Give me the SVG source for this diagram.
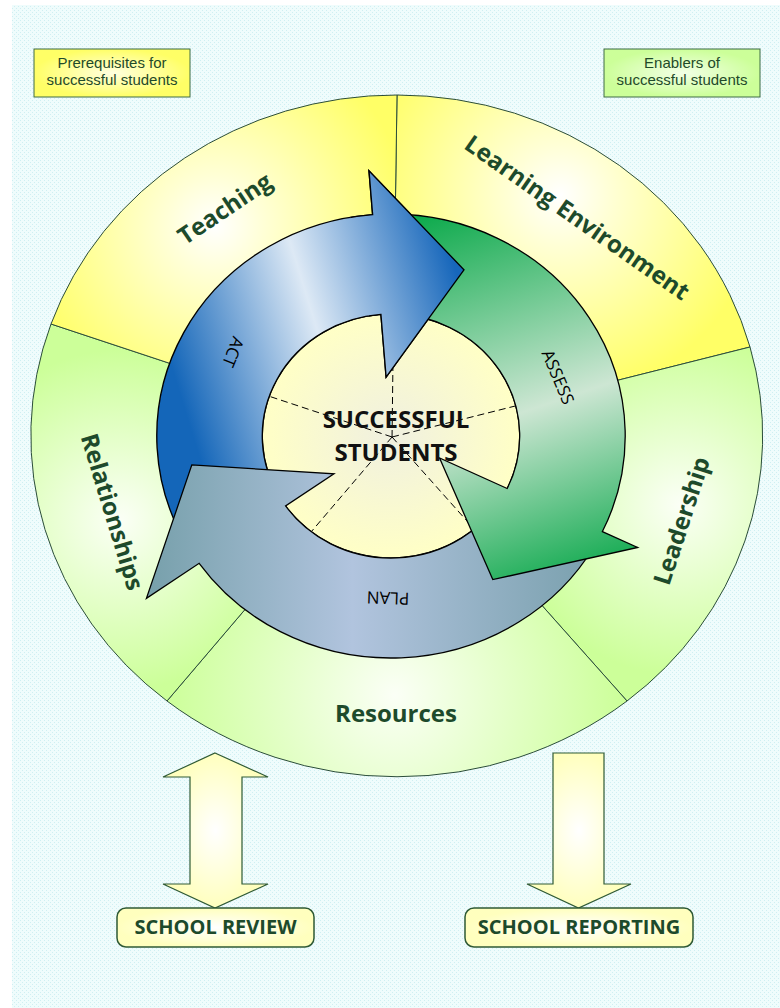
<svg xmlns="http://www.w3.org/2000/svg" width="780" height="1008" viewBox="0 0 780 1008">
  <defs>
    <pattern id="dots" width="4" height="4" patternUnits="userSpaceOnUse">
      <rect width="4" height="4" fill="#effcfc"/>
      <rect x="0" y="0" width="1" height="1" fill="#cfeff2"/>
      <rect x="2" y="2" width="1" height="1" fill="#cfeff2"/>
    </pattern>
    <!-- ring segment shading -->
    <radialGradient id="gTeach" gradientUnits="userSpaceOnUse" cx="215" cy="225" r="195">
      <stop offset="0" stop-color="#ffffff"/><stop offset="0.25" stop-color="#ffffd6"/><stop offset="1" stop-color="#ffff66"/>
    </radialGradient>
    <radialGradient id="gLearn" gradientUnits="userSpaceOnUse" cx="560" cy="195" r="200">
      <stop offset="0" stop-color="#ffffff"/><stop offset="0.25" stop-color="#ffffd6"/><stop offset="1" stop-color="#ffff66"/>
    </radialGradient>
    <radialGradient id="gLead" gradientUnits="userSpaceOnUse" cx="680" cy="505" r="170">
      <stop offset="0" stop-color="#fbfff6"/><stop offset="1" stop-color="#ccff99"/>
    </radialGradient>
    <radialGradient id="gRel" gradientUnits="userSpaceOnUse" cx="120" cy="520" r="170">
      <stop offset="0" stop-color="#fbfff6"/><stop offset="1" stop-color="#ccff99"/>
    </radialGradient>
    <radialGradient id="gRes" gradientUnits="userSpaceOnUse" cx="395" cy="695" r="230">
      <stop offset="0" stop-color="#fbfff6"/><stop offset="1" stop-color="#ccff99"/>
    </radialGradient>
    <radialGradient id="gYellowBox">
      <stop offset="0" stop-color="#ffffe0"/><stop offset="1" stop-color="#ffff66"/>
    </radialGradient>
    <radialGradient id="gGreenBox">
      <stop offset="0" stop-color="#f2ffe6"/><stop offset="1" stop-color="#ccff99"/>
    </radialGradient>
    <radialGradient id="gCream">
      <stop offset="0" stop-color="#ffffff"/><stop offset="1" stop-color="#ffffbe"/>
    </radialGradient>
    <!-- cycle shading (local cycle coordinates) -->
    <radialGradient id="gCore" gradientUnits="userSpaceOnUse" cx="0" cy="0" r="122">
      <stop offset="0" stop-color="#f0f0e0"/><stop offset="1" stop-color="#ffffc6"/>
    </radialGradient>
    <linearGradient id="gAct" gradientUnits="userSpaceOnUse" x1="-214" y1="-90" x2="60" y2="-170">
      <stop offset="0" stop-color="#1466b9"/><stop offset="0.5" stop-color="#dde9f5"/><stop offset="1" stop-color="#1767bb"/>
    </linearGradient>
    <linearGradient id="gAssess" gradientUnits="userSpaceOnUse" x1="37" y1="-231" x2="174" y2="154">
      <stop offset="0" stop-color="#07a848"/><stop offset="0.55" stop-color="#cde6d3"/><stop offset="1" stop-color="#08a749"/>
    </linearGradient>
    <linearGradient id="gPlan" gradientUnits="userSpaceOnUse" x1="-230" y1="100" x2="200" y2="100">
      <stop offset="0" stop-color="#77a0ab"/><stop offset="0.45" stop-color="#b1c4de"/><stop offset="1" stop-color="#789fac"/>
    </linearGradient>
    <path id="actShape" d="M -192.26 111 A 222 222 0 0 1 -17.42 -221.32 L -20.87 -265.18 L 69.18 -166.18 L -4.63 -58.82 L -9.57 -121.62 A 122 122 0 0 0 -105.66 61 Z"/>
    <clipPath id="actHeadClip">
      <polygon points="0,0 -52.1,-295.4 77.6,-289.8 192.8,-229.8 271.9,-126.8"/>
    </clipPath>
  </defs>
  <style>
    .seg{stroke:#2b4d3a;stroke-width:1}
    .lbl{font-family:"Open Sans","DejaVu Sans",sans-serif;font-weight:700;font-size:24px;fill:#1d4a2b;text-anchor:middle}
    .legend{font-family:"Liberation Sans",Arial,sans-serif;font-size:15px;fill:#1f4a2a;text-anchor:middle}
    .legbox{stroke:#3d6b45;stroke-width:1}
    .arrow{stroke:#000;stroke-width:1.3;stroke-linejoin:miter;vector-effect:non-scaling-stroke}
    .step{font-family:"Open Sans","DejaVu Sans",sans-serif;font-size:17px;fill:#000;text-anchor:middle}
    .core{font-family:"Open Sans","DejaVu Sans",sans-serif;font-weight:700;font-size:24px;fill:#111;text-anchor:middle}
    .spoke{stroke:#000;stroke-width:1;stroke-dasharray:7 4;fill:none;vector-effect:non-scaling-stroke}
    .flow{fill:url(#gCream);stroke:#2f5a35;stroke-width:1.2}
    .outbox{fill:url(#gCream);stroke:#2f5a35;stroke-width:1.5}
    .outtxt{font-family:"Open Sans","DejaVu Sans",sans-serif;font-weight:700;font-size:20px;fill:#1d4a2b;text-anchor:middle}
  </style>

  <rect width="780" height="1008" fill="#ffffff"/>
  <rect x="12" y="5" width="768" height="1003" fill="url(#dots)"/>

  <!-- legend -->
  <g id="legend-prerequisites">
    <rect class="legbox" x="34" y="49" width="156" height="48" fill="url(#gYellowBox)"/>
    <text class="legend" x="112" y="68">Prerequisites for</text>
    <text class="legend" x="112" y="85">successful students</text>
  </g>
  <g id="legend-enablers">
    <rect class="legbox" x="604" y="49" width="156" height="48" fill="url(#gGreenBox)"/>
    <text class="legend" x="682" y="68">Enablers of</text>
    <text class="legend" x="682" y="85">successful students</text>
  </g>

  <!-- outer ring segments (wedges meet at the hub, hidden under the cycle) -->
  <g id="seg-learning-environment">
    <path class="seg" fill="url(#gLearn)" d="M 392 437 L 397 95 A 366 341 0 0 1 750 347 Z"/>
  </g>
  <g id="seg-leadership">
    <path class="seg" fill="url(#gLead)" d="M 392 437 L 750 347 A 366 341 0 0 1 627 701 Z"/>
  </g>
  <g id="seg-resources">
    <path class="seg" fill="url(#gRes)" d="M 392 437 L 627 701 A 366 341 0 0 1 167 701 Z"/>
  </g>
  <g id="seg-relationships">
    <path class="seg" fill="url(#gRel)" d="M 392 437 L 167 701 A 366 341 0 0 1 51 324 Z"/>
  </g>
  <g id="seg-teaching">
    <path class="seg" fill="url(#gTeach)" d="M 392 437 L 51 324 A 366 341 0 0 1 397 95 Z"/>
  </g>

  <!-- cycle: centre disc, spokes and the three arrows -->
  <g id="cycle" transform="translate(391 436) scale(1.055 1)">
    <g id="core">
      <circle r="122" fill="url(#gCore)" stroke="#000" stroke-width="1.2" vector-effect="non-scaling-stroke"/>
    </g>
    <g id="spokes">
      <line class="spoke" x1="1" y1="1" x2="2.4" y2="-121"/>
      <line class="spoke" x1="1" y1="1" x2="118.9" y2="-30.3"/>
      <line class="spoke" x1="1" y1="1" x2="79.6" y2="94"/>
      <line class="spoke" x1="1" y1="1" x2="-75.7" y2="95.9"/>
      <line class="spoke" x1="1" y1="1" x2="-114.2" y2="-39.3"/>
    </g>
    <g id="arrow-act">
      <use href="#actShape" class="arrow" fill="url(#gAct)"/>
    </g>
    <g id="arrow-plan">
      <path class="arrow" fill="url(#gPlan)" d="M 192.26 111 A 222 222 0 0 1 -181.85 127.33 L -231.82 162.32 L -188.80 28.89 L -54.06 37.86 L -99.94 69.98 A 122 122 0 0 0 105.66 61 Z"/>
    </g>
    <g id="arrow-assess">
      <path class="arrow" fill="url(#gAssess)" d="M 0 -222 A 222 222 0 0 1 200.38 95.57 L 233.77 111.50 L 96.48 143.59 L 46.03 21.96 L 110.12 52.52 A 122 122 0 0 0 0 -122 Z"/>
    </g>
    <!-- head of ACT laps over the ASSESS tail -->
    <use href="#actShape" class="arrow" fill="url(#gAct)" clip-path="url(#actHeadClip)"/>
  </g>

  <!-- step labels -->
  <text class="step" transform="translate(233 352) rotate(112)" dy="6">ACT</text>
  <text class="step" transform="translate(558 377) rotate(67)" dy="6">ASSESS</text>
  <text class="step" font-size="18" transform="translate(388 598) rotate(182)" dy="6">PLAN</text>

  <text class="core"><tspan x="396" y="428">SUCCESSFUL</tspan><tspan x="396" y="461">STUDENTS</tspan></text>

  <!-- ring labels -->
  <text class="lbl" transform="translate(225 209) rotate(-34)" dy="8">Teaching</text>
  <text class="lbl" transform="translate(577 218) rotate(35)" dy="8">Learning Environment</text>
  <text class="lbl" transform="translate(682 521) rotate(-72)" dy="8">Leadership</text>
  <text class="lbl" font-size="23" transform="translate(112 512) rotate(73)" dy="8">Relationships</text>
  <text class="lbl" x="396" y="722">Resources</text>

  <!-- links to review and reporting -->
  <g id="connectors">
    <path class="flow" d="M 215 753 L 268 777 L 242 777 L 242 884 L 268 884 L 215 908 L 163 884 L 190 884 L 190 777 L 163 777 Z"/>
    <path class="flow" d="M 553 753 L 604 753 L 604 884 L 631 884 L 578.5 908 L 527 884 L 553 884 Z"/>
  </g>

  <g id="school-review">
    <rect class="outbox" x="117" y="908" width="197" height="39" rx="9"/>
    <text class="outtxt" x="215.5" y="934">SCHOOL REVIEW</text>
  </g>
  <g id="school-reporting">
    <rect class="outbox" x="465" y="908" width="228" height="39" rx="9"/>
    <text class="outtxt" x="579" y="934">SCHOOL REPORTING</text>
  </g>
</svg>
